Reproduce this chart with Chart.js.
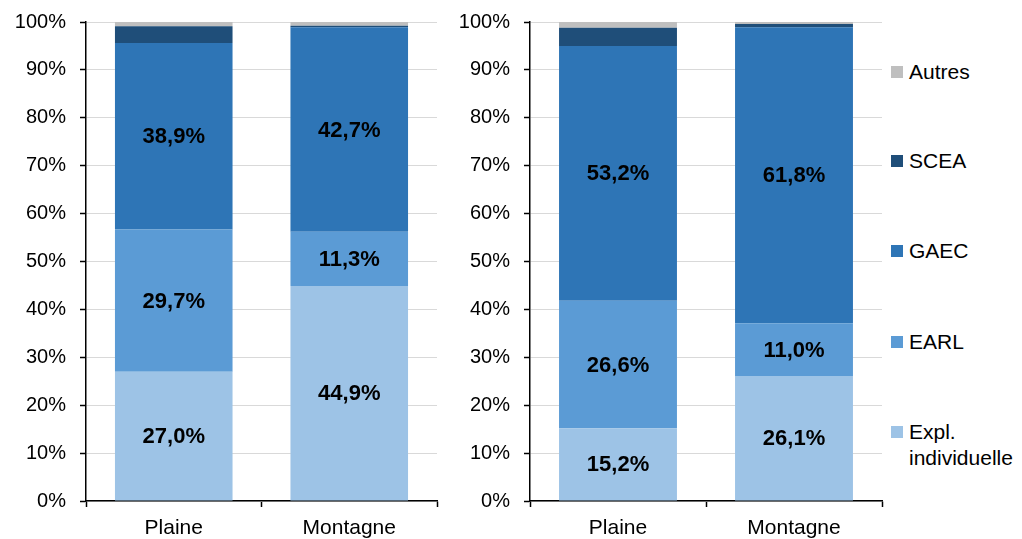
<!DOCTYPE html>
<html>
<head>
<meta charset="utf-8">
<script src="https://cdn.jsdelivr.net/npm/chart.js@4.4.0/dist/chart.umd.min.js"></script>
<style>
  body { margin: 0; background: #fff; font-family: "Liberation Sans", Arial, sans-serif; overflow: hidden; }
  #wrap { position: relative; width: 1022px; height: 539px; overflow: hidden; }
  #c1 { position: absolute; left: 0; top: -4px; }
  #c2 { position: absolute; left: 444px; top: -4px; }
  .leg { position: absolute; left: 891px; font-size: 21px; color: #000; line-height: 26px; }
  .leg span.box { position: absolute; left: 0; top: 7px; width: 12px; height: 12px; }
  .leg span.txt { position: absolute; left: 18px; top: 0; white-space: nowrap; }
</style>
</head>
<body>
<div id="wrap">
  <canvas id="c1" width="444" height="543"></canvas>
  <canvas id="c2" width="446" height="543"></canvas>
</div>
<script>
// categories and series (percent of farms)
var categories = ["Plaine", "Montagne"];
var seriesNames = ["Expl. individuelle", "EARL", "GAEC", "SCEA", "Autres"];
var seriesColors = ["#9dc3e6", "#5b9bd5", "#2e75b6", "#1f4e79", "#bfbfbf"];

// left chart
var explIndA = [27.0, 44.9];
var earlA = [29.7, 11.3];
var gaecA = [38.9, 42.7];
var sceaA = [3.5, 0.3];
var autresA = [0.9, 0.8];

// right chart
var explIndB = [15.2, 26.1];
var earlB = [26.6, 11.0];
var gaecB = [53.2, 61.8];
var sceaB = [3.8, 0.7];
var autresB = [1.2, 0.4];

var yTicks = [0, 10, 20, 30, 40, 50, 60, 70, 80, 90, 100];

var FONT = "'Liberation Sans', Arial, sans-serif";

// draw the value in the middle of the big segments
var valueLabels = {
    id: "valueLabels",
    afterDatasetsDraw: function (chart) {
        var ctx = chart.ctx;
        ctx.save();
        ctx.font = "bold 22px " + FONT;
        ctx.fillStyle = "#000";
        ctx.textAlign = "center";
        ctx.textBaseline = "middle";
        chart.data.datasets.forEach(function (ds, i) {
            if (!ds.showValue) return;
            chart.getDatasetMeta(i).data.forEach(function (bar, j) {
                var txt = ds.data[j].toFixed(1).replace(".", ",") + "%";
                ctx.fillText(txt, bar.x, (bar.y + bar.base) / 2 + 1);
            });
        });
        ctx.restore();
    }
};

function makeChart(id, values, rightPad) {
    var datasets = [];
    for (var i = 0; i < values.length; i++) {
        datasets.push({
            label: seriesNames[i],
            data: values[i],
            backgroundColor: seriesColors[i],
            borderWidth: 0,
            barPercentage: 0.67,
            categoryPercentage: 1,
            showValue: i < 3
        });
    }

    return new Chart(document.getElementById(id), {
        type: "bar",
        data: { labels: categories, datasets: datasets },
        plugins: [valueLabels],
        options: {
            responsive: false,
            animation: false,
            layout: { padding: { top: 0, right: rightPad, left: 0, bottom: 0 } },
            plugins: {
                legend: { display: false },
                tooltip: { enabled: false }
            },
            scales: {
                x: {
                    stacked: true,
                    offset: true,
                    grid: {
                        offset: true,
                        drawOnChartArea: false,
                        tickLength: 6,
                        tickColor: "#000",
                        tickWidth: 1.5
                    },
                    border: { color: "#000", width: 1.5 },
                    ticks: { color: "#000", font: { family: FONT, size: 21 }, padding: 9 },
                    afterFit: function (scale) { scale.height = 38; }
                },
                y: {
                    stacked: true,
                    min: 0,
                    max: 100,
                    afterBuildTicks: function (scale) {
                        scale.ticks = yTicks.map(function (v) { return { value: v }; });
                    },
                    grid: {
                        color: "#d9d9d9",
                        lineWidth: 1,
                        tickLength: 6,
                        tickColor: "#000",
                        tickWidth: 1.5
                    },
                    border: { color: "#000", width: 1.5 },
                    ticks: {
                        color: "#000",
                        font: { family: FONT, size: 20 },
                        padding: 14,
                        callback: function (v) { return v + "%"; }
                    },
                    afterFit: function (scale) { scale.width = 86; }
                }
            }
        }
    });
}

makeChart("c1", [explIndA, earlA, gaecA, sceaA, autresA], 7);
makeChart("c2", [explIndB, earlB, gaecB, sceaB, autresB], 8);

// shared legend, reversed order (Autres on top)
var legTops = [419, 329, 238, 148, 59];
var wrap = document.getElementById("wrap");
for (var k = 0; k < seriesNames.length; k++) {
    var item = document.createElement("div");
    item.className = "leg";
    item.style.top = legTops[k] + "px";
    var box = document.createElement("span");
    box.className = "box";
    box.style.background = seriesColors[k];
    var txt = document.createElement("span");
    txt.className = "txt";
    txt.innerHTML = seriesNames[k] === "Expl. individuelle" ? "Expl.<br>individuelle" : seriesNames[k];
    item.appendChild(box);
    item.appendChild(txt);
    wrap.appendChild(item);
}
</script>
</body>
</html>
